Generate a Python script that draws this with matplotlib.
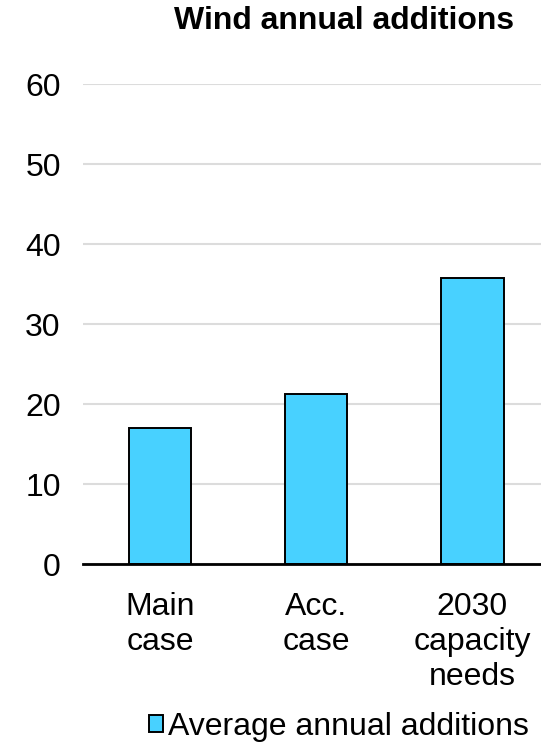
import matplotlib.pyplot as plt

plt.rcParams['font.family'] = ['Liberation Sans', 'DejaVu Sans']

# data
categories = ['Main\ncase', 'Acc.\ncase', '2030\ncapacity\nneeds']
additions = [17.0, 21.3, 35.8]
yticks = [0, 10, 20, 30, 40, 50, 60]

fig = plt.figure(figsize=(5.41, 7.51), dpi=100)
ax = fig.add_axes([83/541, 1-564/751, 1-83/541, (564-84)/751])

x = list(range(len(categories)))
ax.bar(x, additions, width=0.4, color='#48D1FF', edgecolor='black',
       linewidth=1.4, zorder=3, label='Average annual additions')

ax.set_ylim(0, 60)
ax.set_xlim(-0.494, 2.44)
ax.set_yticks(yticks)
ax.set_xticks(x)
ax.set_xticklabels(categories, fontsize=23, linespacing=1.22)
ax.tick_params(axis='y', labelsize=23, length=0, pad=16)
ax.tick_params(axis='x', length=0, pad=20)
ax.yaxis.grid(True, color='#DCDCDC', linewidth=1.5, zorder=0)
for s in ['top', 'right', 'left']:
    ax.spines[s].set_visible(False)
ax.spines['bottom'].set_linewidth(2)
ax.spines['bottom'].set_zorder(4)

fig.text(344/541, 1-21/751, 'Wind annual additions', fontsize=23,
         fontweight='bold', ha='center', va='center')

fig.legend(loc='center right', bbox_to_anchor=(1-9/541, 1-727/751), frameon=False,
           fontsize=23, handlelength=0.45, handleheight=0.45,
           handletextpad=0.15, borderaxespad=0, borderpad=0.1)

fig.savefig('out.png', dpi=100)
